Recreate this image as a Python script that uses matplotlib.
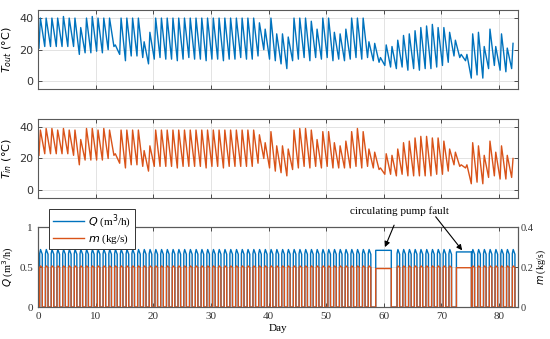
import numpy as np
import matplotlib
matplotlib.use('Agg')
import matplotlib.pyplot as plt
from matplotlib.lines import Line2D

# ---------------- data ----------------
days = list(range(83))

tout_peak = [
    40, 40, 40, 40, 41, 40, 40, 34, 40, 41,
    40, 40, 40, 23, 40, 40, 40, 40, 25, 31,
    40, 40, 40, 40, 40, 40, 40, 40, 40, 40,
    40, 40, 40, 40, 40, 40, 40, 40, 37, 33,
    40, 30, 30, 28, 40, 40, 40, 38, 33, 40,
    40, 31, 30, 33, 40, 40, 40, 25, 24, 15,
    23, 22, 26, 29, 30, 32, 34, 35, 36, 34,
    34, 31, 26, 17, 17, 30, 31, 22, 33, 22,
    30, 21, 24]
tout_trough = [
    21, 22, 22, 22, 22, 22, 22, 17, 18, 18,
    19, 18, 20, 22, 17, 13, 16, 16, 15, 11,
    14, 15, 14, 14, 13, 14, 15, 14, 14, 13,
    14, 14, 13, 14, 14, 15, 14, 14, 16, 20,
    14, 13, 11, 8, 13, 14, 15, 13, 15, 14,
    15, 13, 14, 13, 14, 15, 14, 15, 13, 12,
    10, 9, 8, 9, 7, 8, 7, 8, 8, 9,
    10, 12, 16, 15, 13, 2, 4, 2, 8, 10,
    7, 6, 8]
tin_peak = [
    38, 39, 39, 38, 39, 38, 38, 32, 39, 39,
    38, 39, 38, 23, 38, 38, 38, 38, 25, 28,
    38, 38, 38, 38, 38, 38, 38, 38, 38, 38,
    38, 38, 38, 38, 38, 38, 38, 38, 35, 30,
    37, 28, 28, 26, 38, 39, 39, 38, 32, 37,
    37, 30, 28, 31, 37, 39, 37, 26, 24, 14,
    23, 22, 26, 30, 31, 33, 34, 34, 33, 33,
    31, 26, 24, 16, 16, 30, 28, 22, 31, 24,
    28, 22, 20]
tin_trough = [
    22, 23, 23, 23, 23, 23, 22, 16, 19, 19,
    19, 19, 20, 22, 17, 14, 16, 16, 15, 12,
    15, 15, 15, 15, 14, 15, 15, 15, 15, 14,
    15, 15, 14, 15, 15, 15, 15, 15, 17, 20,
    14, 12, 11, 9, 13, 14, 15, 14, 15, 14,
    15, 14, 14, 14, 14, 15, 14, 15, 14, 13,
    10, 10, 9, 10, 9, 9, 9, 9, 9, 10,
    10, 12, 16, 15, 14, 4, 5, 4, 8, 9,
    7, 7, 8]

# flow: level at pump start, mid-day peak, level at pump stop
q_start = [0.67] * 83
q_peak = [0.72] * 83
q_end = [0.66] * 83
m_peak = [0.206] * 83
m_base = [0.198] * 83
fault_days = [58, 59, 60, 61, 72, 73, 74]
fault_start = [58.6, 72.6]
fault_end = [61.3, 75.2]
fault_q = [0.71, 0.69]
fault_m = [0.193, 0.197]

BLUE = '#0072BD'
ORANGE = '#D95319'
GRID = '#e3e3e3'
SPINE = '#5a5a5a'

fig = plt.figure(figsize=(5.5, 3.39), dpi=100)
ax1 = fig.add_axes([0.069, 0.737, 0.873, 0.233])
ax2 = fig.add_axes([0.069, 0.416, 0.873, 0.233])
ax3 = fig.add_axes([0.069, 0.094, 0.873, 0.236])


def temp_series(peak, trough):
    t, v = [], []
    for d, p, tr in zip(days, peak, trough):
        t += [d + 0.18, d + 0.42]
        v += [tr, p]
    return t, v


def style(ax, fam='DejaVu Sans', right=True):
    ax.set_xlim(0, 83.3)
    ax.set_xticks(range(0, 90, 10))
    ax.grid(True, color=GRID, linewidth=0.7)
    ax.set_axisbelow(True)
    for s in ax.spines.values():
        s.set_color(SPINE)
        s.set_linewidth(0.8)
    ax.tick_params(direction='in', length=3, width=0.6, colors='#333333',
                   labelsize=8, top=True, right=right)
    for lab in ax.get_xticklabels() + ax.get_yticklabels():
        lab.set_family(fam)


t, v = temp_series(tout_peak, tout_trough)
ax1.plot(t, v, color=BLUE, lw=1.0)
ax1.set_ylim(-5, 45)
ax1.set_yticks([0, 20, 40])
style(ax1)
ax1.set_xticklabels([])
ax1.set_ylabel(r'$T_{out}$ (°C)', fontsize=8)
ax1.yaxis.set_label_coords(-0.05, 0.5)

t, v = temp_series(tin_peak, tin_trough)
ax2.plot(t, v, color=ORANGE, lw=1.0)
ax2.set_ylim(-5, 45)
ax2.set_yticks([0, 20, 40])
style(ax2)
ax2.set_xticklabels([])
ax2.set_ylabel(r'$T_{in}$ (°C)', fontsize=8)
ax2.yaxis.set_label_coords(-0.05, 0.5)

# pump series
tq, vq, tm, vm = [0.0], [0.0], [0.0], [0.0]
fi = 0
for d in days:
    if d in fault_days:
        if fi < len(fault_start) and d >= int(fault_start[fi]):
            s, e = fault_start[fi], fault_end[fi]
            tq += [s, s, e, e]
            vq += [0, fault_q[fi], fault_q[fi], 0]
            tm += [s, s, e, e]
            vm += [0, fault_m[fi], fault_m[fi], 0]
            fi += 1
        continue
    s, mid, e = d + 0.3, d + 0.45, d + 0.75
    tq += [s, s, mid, e, e]
    vq += [0, q_start[d], q_peak[d], q_end[d], 0]
    tm += [s, s, mid, e, e]
    vm += [0, m_base[d], m_peak[d], m_base[d], 0]

ax3.plot(tq, vq, color=BLUE, lw=1.0)
ax3.set_ylim(0, 1)
ax3.set_yticks([0, 0.5, 1])
ax3.set_yticklabels(['0', '0.5', '1'])
ax3r = ax3.twinx()
ax3r.plot(tm, vm, color=ORANGE, lw=1.0)
ax3r.set_ylim(0, 0.4)
ax3r.set_yticks([0, 0.2, 0.4])
ax3r.set_yticklabels(['0', '0.2', '0.4'])
ax3.grid(True, color=GRID, linewidth=0.7)
ax3.set_xlim(0, 83.3)
style(ax3, fam='Liberation Serif', right=False)
ax3r.set_xlim(0, 83.3)
for s in ax3r.spines.values():
    s.set_color(SPINE)
    s.set_linewidth(0.8)
ax3r.tick_params(direction='in', length=3, width=0.6, colors='#333333',
                 labelsize=7.5, pad=2)
for lab in ax3r.get_yticklabels():
    lab.set_family('Liberation Serif')
ax3.set_ylabel(r'$Q$ (m$^3$/h)', fontsize=7.5, family='Liberation Serif')
ax3.yaxis.set_label_coords(-0.045, 0.5)
ax3r.set_ylabel(r'$m$ (kg/s)', fontsize=7, family='Liberation Serif')
ax3r.yaxis.set_label_coords(1.035, 0.5)
ax3.set_xlabel('Day', fontsize=8, family='Liberation Serif', labelpad=2)

handles = [Line2D([], [], color=BLUE, lw=1.0), Line2D([], [], color=ORANGE, lw=1.0)]
leg = ax3r.legend(handles, [r'$Q$ (m$^3$/h)', r'$m$ (kg/s)'],
                  loc='upper left', bbox_to_anchor=(0.012, 1.29),
                  prop={'family': 'Liberation Serif', 'size': 8},
                  handlelength=2.8, handletextpad=0.4, borderpad=0.3,
                  labelspacing=0.15, fancybox=False, framealpha=1,
                  edgecolor='#333333')
leg.get_frame().set_linewidth(0.7)
leg.set_zorder(10)

ax3r.annotate('circulating pump fault', xy=(60.2, 0.75 * 0.4), xytext=(62.8, 1.2 * 0.4),
              ha='center', va='center', fontsize=8, family='Liberation Serif',
              annotation_clip=False,
              arrowprops=dict(arrowstyle='-|>', color='black', lw=0.8,
                              shrinkA=5, shrinkB=0, mutation_scale=8))
ax3r.annotate('', xy=(73.6, 0.71 * 0.4), xytext=(69.0, 1.13 * 0.4),
              annotation_clip=False,
              arrowprops=dict(arrowstyle='-|>', color='black', lw=0.8,
                              shrinkA=0, shrinkB=0, mutation_scale=8))

fig.savefig('out.png', dpi=100)
